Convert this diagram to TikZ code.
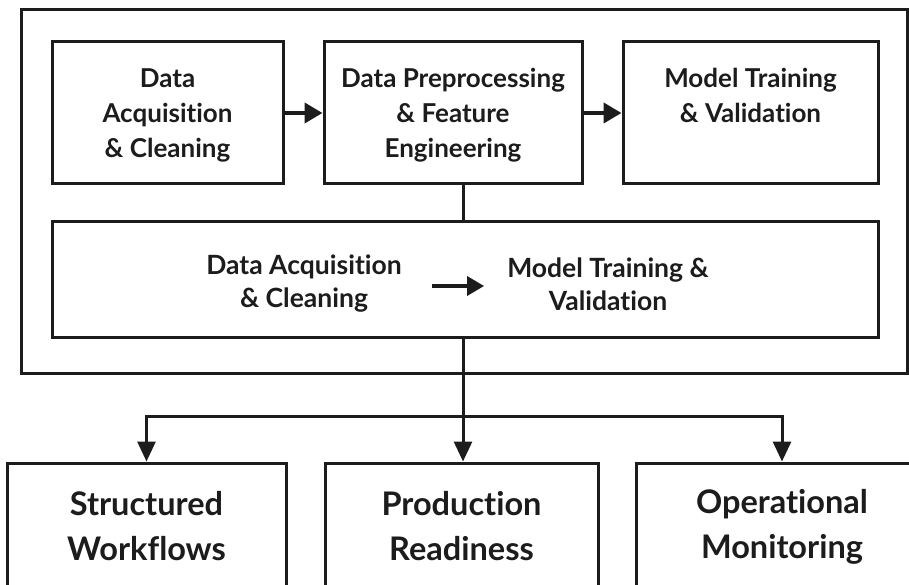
\documentclass[tikz,border=0pt]{standalone}
\usepackage{fontspec}
\setmainfont{Lato}[Ligatures=NoCommon]
\usetikzlibrary{arrows.meta}
\definecolor{ink}{HTML}{1C1C1C}
\begin{document}
\begin{tikzpicture}[x=1pt,y=-1pt,
  box/.style={draw=ink, line width=3pt, fill=white, inner sep=0pt, align=center, text=ink},
  lbl/.style={font=\bfseries\fontsize{26}{35}\selectfont, text depth=0pt},
  midlbl/.style={font=\bfseries\fontsize{26.5}{33}\selectfont, align=center, text=ink, inner sep=0pt},
  biglbl/.style={font=\bfseries\fontsize{32.5}{45}\selectfont},
  conn/.style={draw=ink, line width=3pt},
  arr/.style={conn, -{Triangle[length=20pt,width=18pt]}},
  thickarr/.style={draw=ink, line width=4pt, -{Triangle[length=18pt,width=20pt]}},
]
\useasboundingbox (0,0) rectangle (909,585);
\clip (0,0) rectangle (909,585);
\fill[white] (0,0) rectangle (909,585);

% outer container
\node[box, minimum width=886, minimum height=363] (frame) at (464,191.5) {};

% first row of stages
\node[box, lbl, minimum width=231, minimum height=142] (acq) at (167.5,113)
  {Data\\Acquisition\\\& Cleaning};
\node[box, lbl, minimum width=258, minimum height=142] (prep) at (453,113)
  {Data Preprocessing\\\& Feature\\Engineering};
\node[box, lbl, minimum width=255, minimum height=142] (train) at (750.5,113)
  {Model Training\\\& Validation\\\mbox{}};

\draw[thickarr] (acq.east) -- (prep.west);
\draw[thickarr] (prep.east) -- (train.west);

% summary band
\node[box, minimum width=826, minimum height=115] (band) at (465,279.5) {};
\node[midlbl] (bl) at (304,284) {Data Acquisition\\\& Cleaning};
\node[midlbl] (br) at (608,284) {Model Training \&\\Validation};
\draw[draw=ink, line width=3.5pt, -{Triangle[length=17pt,width=19pt]}]
  ([xshift=30pt,yshift=-2pt]bl.east) -- ([xshift=-23pt,yshift=-2pt]br.west);

% trunk and branches
\coordinate (v) at (463,0);
\coordinate (hub) at (463,416);
\draw[conn] (prep.south -| v) -- (band.north -| v);

\node[box, biglbl, minimum width=279, minimum height=127] (sw) at (146.5,526.5)
  {Structured\\Workflows};
\node[box, biglbl, minimum width=273, minimum height=127] (pr) at (461.5,526.5)
  {Production\\Readiness};
\node[box, biglbl, minimum width=292, minimum height=127] (om) at (782,526.5)
  {Operational\\Monitoring};

\draw[conn] (band.south -| v) -- (hub);
\draw[arr] (hub) -| (sw.north);
\draw[arr] (hub) -- (hub |- pr.north);
\draw[arr] (hub) -| (om.north);
\end{tikzpicture}
\end{document}
